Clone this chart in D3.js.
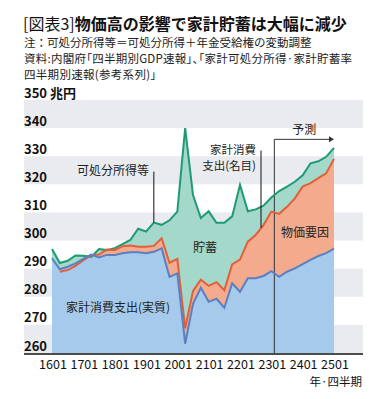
<!DOCTYPE html>
<html><head><meta charset="utf-8">
<script src="https://cdn.jsdelivr.net/npm/d3@7"></script>
<style>
body{margin:0;background:#fff;}
svg text{font-family:"Noto Sans CJK JP","Noto Sans",sans-serif;}
</style></head><body><svg id="c" width="384" height="399"></svg>
<script>
const quarters = ["1601","1602","1603","1604","1701","1702","1703","1704","1801","1802","1803","1804",
  "1901","1902","1903","1904","2001","2002","2003","2004","2101","2102","2103","2104",
  "2201","2202","2203","2204","2301","2302","2303","2304","2401","2402","2403","2404","2501"];
// 可処分所得等
const disposable = [297.0,292.0,292.8,294.7,294.6,294.2,297.0,296.6,297.3,298.7,300.2,304.2,
  303.2,306.4,305.6,307.2,310.3,340.0,316.2,308.0,310.4,306.3,306.3,308.6,
  319.8,310.4,311.1,312.4,315.3,317.6,319.2,320.9,323.2,327.5,328.2,329.8,333.0];
// 家計消費支出(名目)
const nominal = [null,288.9,289.5,291.0,293.0,294.8,295.0,296.8,296.6,298.0,298.2,297.8,
  297.8,298.1,300.8,292.1,293.5,268.8,282.0,286.1,283.9,285.2,282.3,291.5,
  293.2,299.6,302.0,305.5,310.3,309.5,312.0,315.0,319.2,320.4,322.2,323.9,329.0];
// 家計消費支出(実質)
const real = [293.7,289.8,290.7,291.9,293.5,295.0,294.0,294.9,294.9,295.5,295.8,295.8,
  295.5,296.0,297.2,287.1,288.3,263.3,277.5,283.2,278.2,279.3,276.1,284.8,
  281.8,286.6,286.6,287.4,289.1,287.1,288.9,290.1,291.6,293.1,294.5,295.5,297.1];
const yTicks = [260,270,280,290,300,310,320,330,340,350];
const bandStarts = [260,280,300,320,340];
const xTickLabels = ["1601","1701","1801","1901","2001","2101","2201","2301","2401","2501"];
const forecastStart = "2301";

const svg = d3.select("#c");
const x = d3.scalePoint().domain(quarters).range([52,334]);
const y = d3.scaleLinear().domain([260,350]).range([353,100]);
const plotL = 24, plotR = 363;

// title
const t = svg.append("text").attr("x",23).attr("y",30).attr("font-size",16).attr("fill","#111");
t.append("tspan").attr("font-weight",400).text("[図表3]");
t.append("tspan").attr("font-weight",700).text("物価高の影響で家計貯蓄は大幅に減少");
const notes = [
  {s:"注：可処分所得等＝可処分所得＋年金受給権の変動調整", ls:0, palt:false},
  {s:"資料:内閣府「四半期別GDP速報」、「家計可処分所得·家計貯蓄率", ls:0.25, palt:true},
  {s:"四半期別速報(参考系列)」", ls:0.3, palt:false}];
const nt = svg.append("text").attr("fill","#222").attr("font-size",11.5);
notes.forEach((n,i)=>nt.append("tspan").attr("x",24).attr("y",47+i*16).attr("letter-spacing",n.ls)
  .style("font-feature-settings",n.palt?"'palt'":"normal").text(n.s));

// bands
svg.append("g").selectAll("rect").data(bandStarts).join("rect")
  .attr("x",plotL).attr("width",plotR-plotL)
  .attr("y",d=>y(d+10)).attr("height",d=>y(d)-y(d+10)).attr("fill","#e9ebee");

const idx = quarters.map((q,i)=>i);
const mkArea = arr => d3.area().defined(i=>arr[i]!=null).x(i=>x(quarters[i])).y0(y(260)).y1(i=>y(arr[i]));
const mkLine = arr => d3.line().defined(i=>arr[i]!=null).x(i=>x(quarters[i])).y(i=>y(arr[i]));

svg.append("path").attr("d",mkArea(disposable)(idx)).attr("fill","#a3d8ca");
svg.append("path").attr("d",mkArea(nominal)(idx)).attr("fill","#f4ab8d");
svg.append("path").attr("d",mkArea(real)(idx)).attr("fill","#a5caeb");

// forecast marker
const fx = x(forecastStart)+3;
const xe = x(quarters[quarters.length-1]);
svg.append("line").attr("x1",fx).attr("x2",fx).attr("y1",y(260)).attr("y2",y(336)).attr("stroke","#333").attr("stroke-width",1);
svg.append("line").attr("x1",fx).attr("x2",xe-4).attr("y1",y(336)).attr("y2",y(336)).attr("stroke","#333").attr("stroke-width",1);
svg.append("path").attr("d",`M${xe-5},${y(336)-3}L${xe},${y(336)}L${xe-5},${y(336)+3}Z`).attr("fill","#333");
svg.append("text").attr("x",(fx+xe)/2).attr("y",y(336)-5).attr("text-anchor","middle")
  .attr("font-size",12).attr("fill","#222").text("予測");

svg.append("path").attr("d",mkLine(disposable)(idx)).attr("fill","none").attr("stroke","#1e9a74").attr("stroke-width",2);
svg.append("path").attr("d",mkLine(nominal)(idx)).attr("fill","none").attr("stroke","#e0603a").attr("stroke-width",2);
svg.append("path").attr("d",mkLine(real)(idx)).attr("fill","none").attr("stroke","#5b80c2").attr("stroke-width",2);

// axis
svg.append("line").attr("x1",plotL).attr("x2",plotR).attr("y1",y(260)+1).attr("y2",y(260)+1).attr("stroke","#111").attr("stroke-width",1.5);

// y labels
svg.append("g").selectAll("text").data(yTicks).join("text")
  .attr("x",24).attr("y",d=>y(d)-2.5).attr("font-size",13).attr("font-weight",700).attr("fill","#111")
  .text(d=>d===350? "350 兆円" : d);

// x labels
svg.append("g").selectAll("text").data(xTickLabels).join("text")
  .attr("x",d=>x(d)+1).attr("y",369).attr("text-anchor","middle").attr("font-size",12.5).attr("fill","#111").text(d=>d);
svg.append("text").attr("x",362).attr("y",386).attr("text-anchor","end").attr("font-size",11.5).attr("fill","#111").text("年·四半期");

// annotations
const ann = (s,ax,ay,anchor,fs)=>svg.append("text").attr("x",ax).attr("y",ay).attr("text-anchor",anchor||"middle")
  .attr("font-size",fs||12).attr("fill","#222").style("font-feature-settings","'palt'").text(s);
ann("可処分所得等",113,175);
svg.append("line").attr("x1",x("1902")).attr("x2",x("1902")).attr("y1",y(324.5)).attr("y2",y(disposable[13])).attr("stroke","#111").attr("stroke-width",1);
const nomLbl = svg.append("text").attr("text-anchor","end").attr("font-size",11.5).attr("fill","#222").style("font-feature-settings","'palt'");
nomLbl.append("tspan").attr("x",256).attr("y",153.5).text("家計消費");
nomLbl.append("tspan").attr("x",256).attr("y",169.5).text("支出(名目)");
svg.append("line").attr("x1",x("2204")-2.5).attr("x2",x("2204")-2.5).attr("y1",y(332)).attr("y2",y(304.5)).attr("stroke","#111").attr("stroke-width",1);
ann("貯蓄",205,252);
ann("物価要因",305,237);
ann("家計消費支出(実質)",118,312);
</script></body></html>
